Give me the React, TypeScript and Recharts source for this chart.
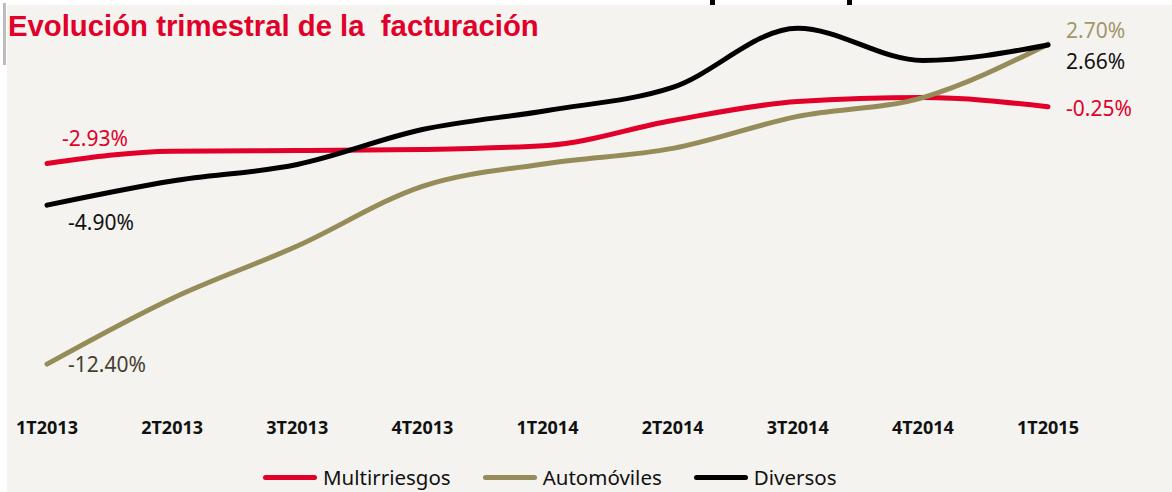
import { Line, LineChart, XAxis, YAxis } from "recharts";

// trimestres
const categories = ["1T2013", "2T2013", "3T2013", "4T2013", "1T2014", "2T2014", "3T2014", "4T2014", "1T2015"];

// variación interanual (%)
const multirriesgos = [-2.93, -2.35, -2.32, -2.27, -2.08, -0.9, -0.01, 0.18, -0.25];
const automoviles = [-12.4, -9.3, -6.83, -4.01, -2.93, -2.22, -0.71, 0.18, 2.7];
const diversos = [-4.9, -3.76, -2.98, -1.33, -0.43, 0.66, 3.45, 1.93, 2.66];

const chartData = categories.map((name, i) => ({
  name,
  multirriesgos: multirriesgos[i],
  automoviles: automoviles[i],
  diversos: diversos[i]
}));

const series = [
  {
    key: "multirriesgos",
    name: "Multirriesgos",
    color: "#E1002A",
    firstColor: "#E1002A",
    lastColor: "#E1002A",
    first: { dx: 15, dy: -25 },
    last: { dx: 18, dy: 1 }
  },
  {
    key: "automoviles",
    name: "Automóviles",
    color: "#968C5A",
    firstColor: "#444031",
    lastColor: "#A0976B",
    first: { dx: 21, dy: 0 },
    last: { dx: 18, dy: -14 }
  },
  {
    key: "diversos",
    name: "Diversos",
    color: "#000000",
    firstColor: "#111111",
    lastColor: "#111111",
    first: { dx: 21, dy: 17 },
    last: { dx: 18, dy: 16 }
  }
];

const lastIndex = categories.length - 1;
const fmt = (v: number) => v.toFixed(2) + "%";

const makeLabel = (s: (typeof series)[number]) => (props: any) => {
  const { x, y, index, value } = props;
  if (index !== 0 && index !== lastIndex) return null;
  const off = index === 0 ? s.first : s.last;
  return (
    <text
      key={`${s.key}-${index}`}
      x={x + off.dx}
      y={y + off.dy}
      fill={index === 0 ? s.firstColor : s.lastColor}
      fontSize={21}
      fontFamily="'Noto Sans', sans-serif"
      dominantBaseline="central"
    >
      {fmt(Number(value))}
    </text>
  );
};

export default function App() {
  return (
    <div style={{ position: "absolute", left: 0, top: 0, width: 1172, height: 492, background: "#ffffff", overflow: "hidden" }}>
      <div style={{ position: "absolute", left: 7, top: 5, right: 0, bottom: 0, background: "#F4F3EF" }} />
      <div style={{ position: "absolute", left: 3, top: 3, width: 3, height: 62, background: "#BDBDBD" }} />
      <div style={{ position: "absolute", left: 710, top: 0, width: 5, height: 5, background: "#000" }} />
      <div style={{ position: "absolute", left: 847, top: 0, width: 5, height: 5, background: "#000" }} />

      <div style={{ position: "absolute", left: 0, top: 0 }}>
        <LineChart width={1172} height={492} data={chartData} margin={{ top: 6, right: 124, left: 47, bottom: 64 }}>
          <XAxis
            dataKey="name"
            axisLine={false}
            tickLine={false}
            interval={0}
            height={30}
            tickMargin={17}
            tick={{ fill: "#111", fontSize: 18, fontWeight: 700, fontFamily: "'Noto Sans', sans-serif" }}
          />
          <YAxis hide domain={[-14, 4.5]} />
          {series.map((s) => (
            <Line
              key={s.key}
              dataKey={s.key}
              name={s.name}
              type="monotone"
              stroke={s.color}
              strokeWidth={5}
              strokeLinecap="round"
              dot={false}
              activeDot={false}
              isAnimationActive={false}
              label={makeLabel(s)}
            />
          ))}
        </LineChart>
      </div>

      <div
        style={{
          position: "absolute",
          left: 8,
          top: 9,
          color: "#E1002A",
          fontFamily: "'Liberation Sans', Arial, sans-serif",
          fontWeight: 700,
          fontSize: 29.3,
          whiteSpace: "pre",
          lineHeight: "34px"
        }}
      >
        {"Evolución trimestral de la  facturación"}
      </div>

      <div
        style={{
          position: "absolute",
          left: 263,
          top: 463,
          display: "flex",
          alignItems: "center",
          fontFamily: "'Noto Sans', sans-serif",
          fontSize: 20.5,
          color: "#111",
          lineHeight: "28px"
        }}
      >
        {series.map((s) => (
          <div key={s.key} style={{ display: "flex", alignItems: "center", marginRight: 32 }}>
            <div style={{ width: 54, height: 5, borderRadius: 3, background: s.color, marginRight: 6 }} />
            <span>{s.name}</span>
          </div>
        ))}
      </div>
    </div>
  );
}
